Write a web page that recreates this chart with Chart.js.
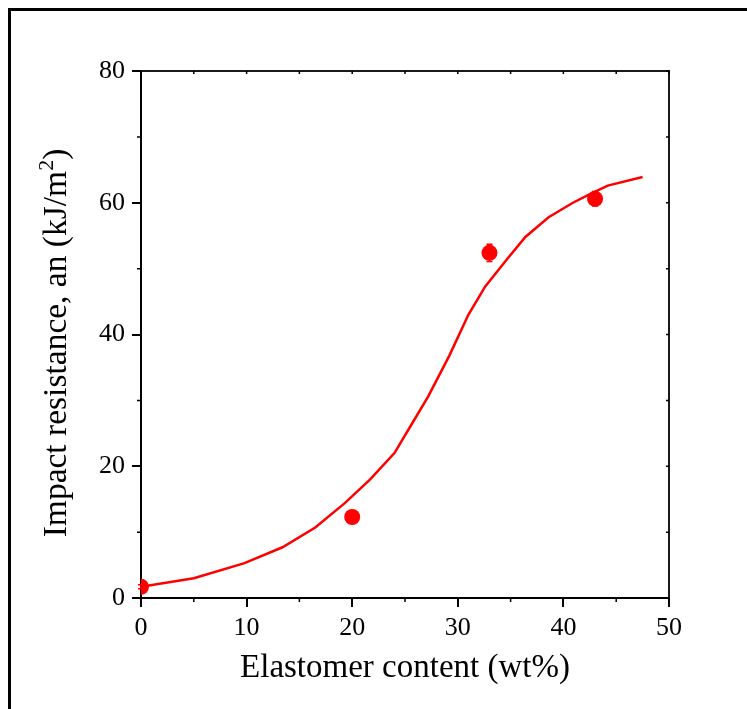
<!DOCTYPE html>
<html>
<head>
<meta charset="utf-8">
<script src="https://cdn.jsdelivr.net/npm/chart.js@4"></script>
<style>
  html, body { margin: 0; padding: 0; background: #fff; }
  #wrap { width: 747px; height: 709px; position: relative; }
</style>
</head>
<body>
<div id="wrap"><canvas id="c" width="747" height="709"></canvas></div>
<script>
// Measured impact resistance vs. elastomer content
const contentPts = [0, 20, 33, 43];
const impactPts = [1.7, 12.3, 52.4, 60.6];
const impactErr = [0.3, 0.4, 1.3, 1.1];

// Fitted sigmoidal trend
const fitX = [0, 5, 9.8, 13.4, 16.5, 19.3, 21.7, 24.0, 25.6, 27.2, 29.2, 31.0, 32.6, 34.6, 36.4, 38.6, 40.9, 42.6, 44.2, 47.5];
const fitY = [1.7, 3.0, 5.3, 7.7, 10.7, 14.4, 18.0, 22.0, 26.3, 30.6, 36.8, 43.0, 47.3, 51.3, 54.8, 57.8, 60.0, 61.4, 62.6, 63.9];

const xTicks = [0, 10, 20, 30, 40, 50];
const yTicks = [0, 20, 40, 60, 80];
const xMinor = [5, 15, 25, 35, 45];
const yMinor = [10, 30, 50, 70];

const yTitleMain = 'Impact resistance, an (kJ/m';
const yTitleSup = '2';
const yTitleEnd = ')';

const RED = '#ff0000';
const SERIF = '"Liberation Serif", "DejaVu Serif", serif';

const toXY = (xs, ys) => xs.map((x, i) => ({ x: x, y: ys[i] }));

// Outer frame, box around the plot area, minor ticks, y-axis title
const framePlugin = {
  id: 'frame',
  afterDraw(chart) {
    const ctx = chart.ctx;
    const a = chart.chartArea;
    const xs = chart.scales.x, ys = chart.scales.y;
    ctx.save();
    ctx.strokeStyle = '#000';
    ctx.lineWidth = 3;
    ctx.beginPath();
    ctx.moveTo(9.5, 720);
    ctx.lineTo(9.5, 9.5);
    ctx.lineTo(760, 9.5);
    ctx.stroke();

    ctx.lineWidth = 2;
    ctx.strokeStyle = '#1a1a1a';
    ctx.beginPath();
    ctx.moveTo(a.left, a.top);
    ctx.lineTo(a.right, a.top);
    ctx.lineTo(a.right, a.bottom);
    ctx.stroke();

    ctx.lineWidth = 1.5;
    ctx.strokeStyle = '#000';
    ctx.beginPath();
    xMinor.forEach(v => {
      const px = xs.getPixelForValue(v);
      ctx.moveTo(px, a.bottom); ctx.lineTo(px, a.bottom + 4);
      ctx.moveTo(px, a.top); ctx.lineTo(px, a.top + 3);
    });
    xTicks.forEach(v => {
      const px = xs.getPixelForValue(v);
      ctx.moveTo(px, a.top); ctx.lineTo(px, a.top + 3);
    });
    yMinor.forEach(v => {
      const py = ys.getPixelForValue(v);
      ctx.moveTo(a.left, py); ctx.lineTo(a.left - 4, py);
      ctx.moveTo(a.right, py); ctx.lineTo(a.right - 3, py);
    });
    yTicks.forEach(v => {
      const py = ys.getPixelForValue(v);
      ctx.moveTo(a.right, py); ctx.lineTo(a.right - 3, py);
    });
    ctx.stroke();

    // Rotated y-axis title with a raised superscript
    const mainFont = '33.5px ' + SERIF;
    const supFont = '22px ' + SERIF;
    ctx.font = mainFont;
    const wMain = ctx.measureText(yTitleMain).width;
    const wEnd = ctx.measureText(yTitleEnd).width;
    ctx.font = supFont;
    const wSup = ctx.measureText(yTitleSup).width;
    const total = wMain + wSup + wEnd;
    const baseX = 66;
    const centerY = 343;
    ctx.translate(baseX, centerY);
    ctx.rotate(-Math.PI / 2);
    ctx.fillStyle = '#000';
    ctx.textBaseline = 'alphabetic';
    ctx.textAlign = 'left';
    let cx = -total / 2;
    ctx.font = mainFont;
    ctx.fillText(yTitleMain, cx, 0);
    cx += wMain;
    ctx.font = supFont;
    ctx.fillText(yTitleSup, cx, -13);
    cx += wSup;
    ctx.font = mainFont;
    ctx.fillText(yTitleEnd, cx, 0);
    ctx.restore();
  }
};

// Vertical error bars on the measured points
const errorBarPlugin = {
  id: 'errorBars',
  afterDatasetsDraw(chart) {
    const ctx = chart.ctx;
    const xs = chart.scales.x, ys = chart.scales.y;
    ctx.save();
    ctx.strokeStyle = RED;
    ctx.lineWidth = 1.5;
    ctx.beginPath();
    contentPts.forEach((x, i) => {
      const px = xs.getPixelForValue(x);
      const top = ys.getPixelForValue(impactPts[i] + impactErr[i]);
      const bot = ys.getPixelForValue(impactPts[i] - impactErr[i]);
      ctx.moveTo(px, top); ctx.lineTo(px, bot);
      ctx.moveTo(px - 3, top); ctx.lineTo(px + 3, top);
      ctx.moveTo(px - 3, bot); ctx.lineTo(px + 3, bot);
    });
    ctx.stroke();
    ctx.restore();
  }
};

new Chart(document.getElementById('c'), {
  type: 'scatter',
  data: {
    datasets: [
      {
        label: 'Measured',
        data: toXY(contentPts, impactPts),
        backgroundColor: RED,
        borderColor: RED,
        pointRadius: 8,
        pointHoverRadius: 8,
        borderWidth: 0
      },
      {
        label: 'Fit',
        data: toXY(fitX, fitY),
        showLine: true,
        borderColor: RED,
        borderWidth: 2.5,
        pointRadius: 0,
        tension: 0,
        fill: false
      }
    ]
  },
  options: {
    responsive: false,
    animation: false,
    devicePixelRatio: 1,
    layout: { padding: { left: 0, top: 71, right: 78, bottom: 0 } },
    plugins: {
      legend: { display: false },
      tooltip: { enabled: false }
    },
    scales: {
      x: {
        type: 'linear',
        min: 0, max: 50,
        afterFit(scale) { scale.height = 111; },
        afterBuildTicks(scale) { scale.ticks = xTicks.map(v => ({ value: v })); },
        border: { color: '#000', width: 2 },
        grid: { drawOnChartArea: false, drawTicks: true, tickLength: 9, color: '#000', lineWidth: 2 },
        ticks: { color: '#000', padding: 6, font: { family: SERIF, size: 26 } },
        title: {
          display: true,
          text: 'Elastomer content (wt%)',
          color: '#000',
          font: { family: SERIF, size: 33 },
          padding: { top: 0, bottom: 21 }
        }
      },
      y: {
        type: 'linear',
        min: 0, max: 80,
        afterFit(scale) { scale.width = 141; },
        afterBuildTicks(scale) { scale.ticks = yTicks.map(v => ({ value: v })); },
        border: { color: '#000', width: 2 },
        grid: { drawOnChartArea: false, drawTicks: true, tickLength: 9, color: '#000', lineWidth: 2 },
        ticks: { color: '#000', padding: 7, font: { family: SERIF, size: 26 } },
        title: { display: false, text: 'Impact resistance, an (kJ/m²)' }
      }
    }
  },
  plugins: [framePlugin, errorBarPlugin]
});
</script>
</body>
</html>
